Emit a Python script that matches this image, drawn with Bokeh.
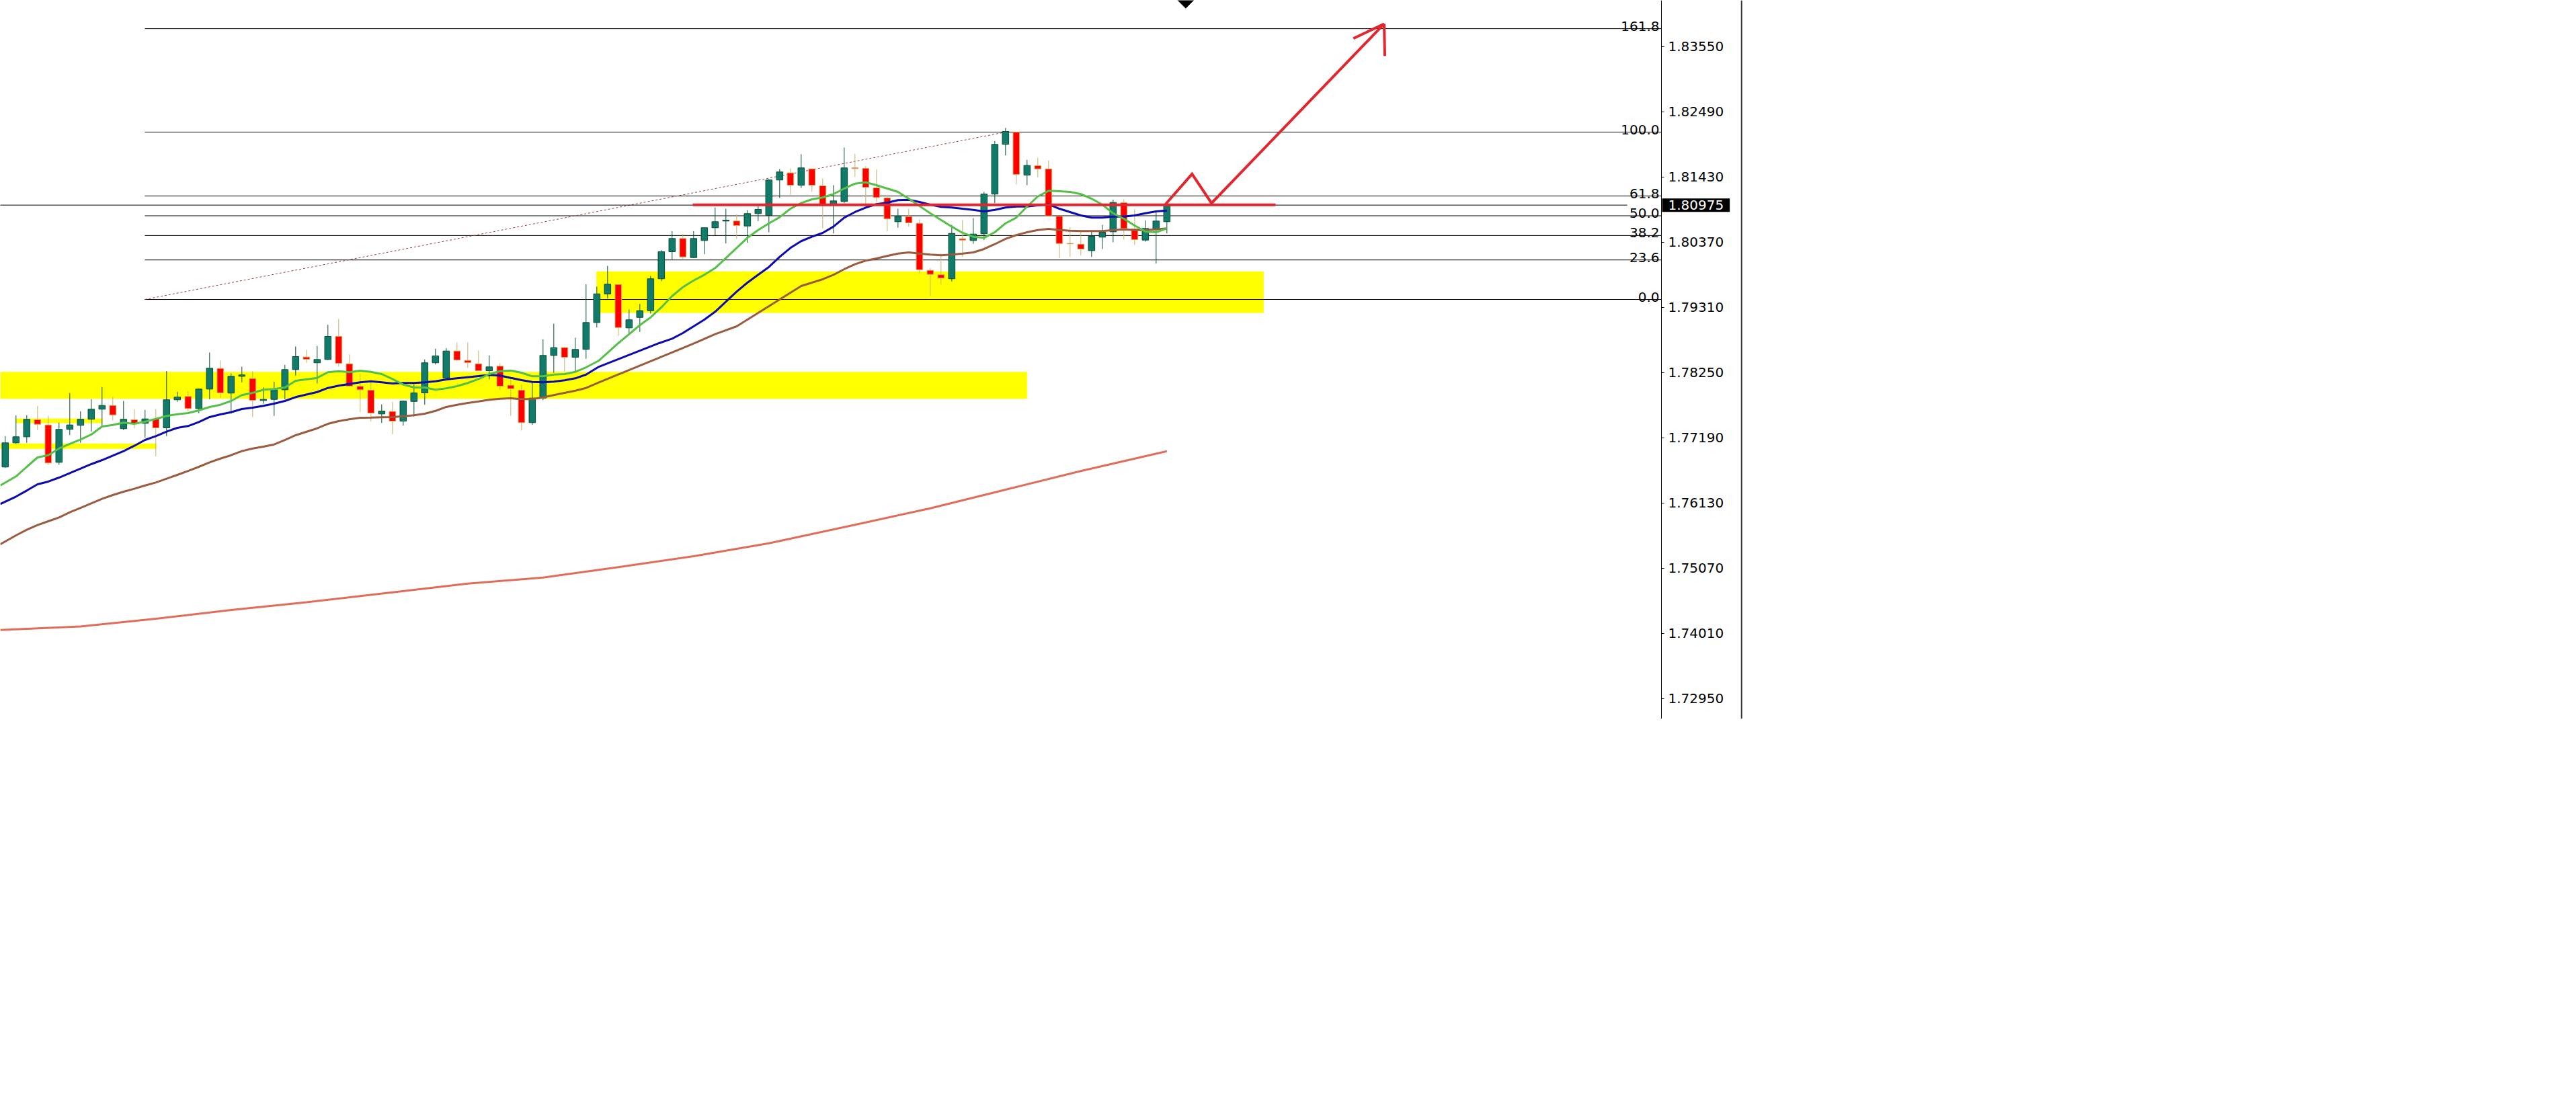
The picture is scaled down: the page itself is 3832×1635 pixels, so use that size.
from bokeh.plotting import figure
from bokeh.models import Range1d, FixedTicker, PrintfTickFormatter, Label, ColumnDataSource, Span
from bokeh.embed import file_html
from bokeh.resources import INLINE
from bokeh.core.properties import value

# ---------------- data (prices) ----------------
open_ = [
    1.76717, 1.77110, 1.77208, 1.77485, 1.77401, 1.76793, 1.77329, 1.77394, 1.77493, 1.77657,
    1.77718, 1.77340, 1.77485, 1.77427, 1.77499, 1.77354, 1.77810, 1.77864, 1.77667, 1.77984,
    1.78319, 1.77919, 1.78192, 1.78155, 1.77799, 1.77816, 1.77973, 1.78301, 1.78505, 1.78411,
    1.78465, 1.78840, 1.78395, 1.78028, 1.77966, 1.77580, 1.77620, 1.77463, 1.77783, 1.77922,
    1.78411, 1.78166, 1.78603, 1.78450, 1.78395, 1.78283, 1.78356, 1.78046, 1.77966, 1.77438,
    1.77838, 1.78531, 1.78658, 1.78501, 1.78629, 1.79066, 1.79532, 1.79685, 1.78979, 1.79149,
    1.79259, 1.79777, 1.80217, 1.80432, 1.80122, 1.80399, 1.80607, 1.80716, 1.80716, 1.80635,
    1.80837, 1.80807, 1.81383, 1.81499, 1.81299, 1.81564, 1.81288, 1.80971, 1.81033, 1.81580,
    1.81572, 1.81255, 1.81091, 1.80705, 1.80788, 1.80679, 1.79914, 1.79842, 1.79777, 1.80428,
    1.80399, 1.80509, 1.81154, 1.81962, 1.82162, 1.81463, 1.81616, 1.81564, 1.80796, 1.80351,
    1.80340, 1.80235, 1.80454, 1.80541, 1.81015, 1.80589, 1.80406, 1.80581, 1.80705]
high = [
    1.77219, 1.77558, 1.77558, 1.77711, 1.77551, 1.77438, 1.77919, 1.77624, 1.77820, 1.78017,
    1.77857, 1.77791, 1.77657, 1.77646, 1.77657, 1.78275, 1.77941, 1.77947, 1.77995, 1.78578,
    1.78447, 1.78239, 1.78348, 1.78275, 1.78010, 1.78105, 1.78378, 1.78676, 1.78621, 1.78687,
    1.79029, 1.79124, 1.78548, 1.78228, 1.78094, 1.77736, 1.77777, 1.77799, 1.78057, 1.78465,
    1.78640, 1.78651, 1.78742, 1.78742, 1.78610, 1.78531, 1.78403, 1.78166, 1.78057, 1.78083,
    1.78793, 1.79048, 1.78668, 1.78818, 1.79689, 1.79649, 1.79987, 1.79685, 1.79277, 1.79368,
    1.79824, 1.80242, 1.80552, 1.80509, 1.80552, 1.80607, 1.80935, 1.80916, 1.80826, 1.80891,
    1.80971, 1.81397, 1.81561, 1.81572, 1.81802, 1.81572, 1.81408, 1.81299, 1.81911, 1.81809,
    1.81608, 1.81553, 1.81135, 1.80916, 1.80916, 1.80742, 1.79951, 1.80187, 1.80654, 1.80734,
    1.80763, 1.81190, 1.82017, 1.82228, 1.82162, 1.81711, 1.81747, 1.81700, 1.80796, 1.80618,
    1.80559, 1.80570, 1.80654, 1.81062, 1.81069, 1.80909, 1.80727, 1.80887, 1.80990]
low = [
    1.76701, 1.77092, 1.77110, 1.77318, 1.76753, 1.76753, 1.77237, 1.77110, 1.77292, 1.77383,
    1.77474, 1.77318, 1.77346, 1.77193, 1.76892, 1.77219, 1.77777, 1.77630, 1.77591, 1.77820,
    1.77838, 1.77583, 1.78094, 1.77529, 1.77747, 1.77547, 1.77820, 1.78203, 1.78411, 1.78075,
    1.78457, 1.78348, 1.78020, 1.77608, 1.77455, 1.77434, 1.77248, 1.77390, 1.77536, 1.77729,
    1.78384, 1.78155, 1.78439, 1.78330, 1.78275, 1.78141, 1.77973, 1.77547, 1.77310, 1.77401,
    1.77802, 1.78250, 1.78264, 1.78275, 1.78476, 1.78985, 1.79460, 1.78848, 1.78876, 1.78913,
    1.79212, 1.79739, 1.80086, 1.80097, 1.80115, 1.80177, 1.80479, 1.80351, 1.80425, 1.80362,
    1.80716, 1.80534, 1.81091, 1.81143, 1.81252, 1.81190, 1.80596, 1.80515, 1.81007, 1.81433,
    1.80990, 1.81026, 1.80545, 1.80607, 1.80625, 1.79867, 1.79496, 1.79685, 1.79733, 1.80133,
    1.80345, 1.80406, 1.81007, 1.81783, 1.81310, 1.81299, 1.81427, 1.80799, 1.80115, 1.80133,
    1.80159, 1.80133, 1.80261, 1.80370, 1.80414, 1.80326, 1.80381, 1.80024, 1.80515]
close = [
    1.77110, 1.77208, 1.77493, 1.77412, 1.76782, 1.77329, 1.77401, 1.77493, 1.77657, 1.77718,
    1.77565, 1.77493, 1.77430, 1.77499, 1.77354, 1.77810, 1.77853, 1.77667, 1.77984, 1.78323,
    1.77922, 1.78192, 1.78214, 1.77802, 1.77816, 1.77973, 1.78301, 1.78512, 1.78468, 1.78465,
    1.78840, 1.78403, 1.78031, 1.77973, 1.77594, 1.77627, 1.77463, 1.77788, 1.77922, 1.78411,
    1.78523, 1.78603, 1.78457, 1.78414, 1.78283, 1.78345, 1.78031, 1.77991, 1.77438, 1.77838,
    1.78531, 1.78658, 1.78501, 1.78629, 1.79066, 1.79532, 1.79689, 1.78985, 1.79110, 1.79259,
    1.79777, 1.80217, 1.80432, 1.80133, 1.80432, 1.80607, 1.80705, 1.80731, 1.80643, 1.80837,
    1.80905, 1.81383, 1.81514, 1.81299, 1.81580, 1.81299, 1.80971, 1.81044, 1.81580, 1.81569,
    1.81263, 1.81099, 1.80752, 1.80796, 1.80687, 1.79925, 1.79849, 1.79788, 1.80515, 1.80406,
    1.80504, 1.81154, 1.81962, 1.82173, 1.81474, 1.81619, 1.81564, 1.80799, 1.80351, 1.80345,
    1.80261, 1.80468, 1.80534, 1.81018, 1.80596, 1.80414, 1.80596, 1.80716, 1.80975]

# moving averages: (bar index, price)
ma_fast_x = [-0.46, 1, 2, 3, 4, 5, 6, 7, 8, 9, 10, 11, 12, 13, 14, 15, 16, 17, 18, 19, 20, 21, 22, 23, 24, 25,
             26, 27, 29, 30, 31, 32, 33, 34, 35, 36, 37, 38, 39, 40, 41, 42, 43, 44, 45, 46, 47, 48, 49, 50,
             51, 52, 53, 54, 55.2, 57, 58, 59, 60, 61, 62, 63, 64, 65, 66, 67, 68, 69, 70, 71, 72, 73, 74,
             75, 76, 77, 78, 79, 80, 81, 82, 83, 84, 85, 86, 87, 88, 89, 90, 91, 92, 93, 94, 95, 96, 97, 98,
             99, 100, 101, 102, 103, 104, 105, 106, 107, 108]
ma_fast_y = [1.76417, 1.76564, 1.76720, 1.76873, 1.76909, 1.77018, 1.77092, 1.77165, 1.77245, 1.77376,
             1.77401, 1.77438, 1.77419, 1.77455, 1.77499, 1.77547, 1.77576, 1.77594, 1.77638, 1.77693,
             1.77729, 1.77791, 1.77886, 1.77922, 1.77973, 1.77984, 1.78010, 1.78119, 1.78166, 1.78258,
             1.78275, 1.78258, 1.78283, 1.78264, 1.78228, 1.78148, 1.78057, 1.78010, 1.78010, 1.77973,
             1.77995, 1.78031, 1.78083, 1.78148, 1.78228, 1.78275, 1.78286, 1.78250, 1.78192, 1.78192,
             1.78220, 1.78228, 1.78264, 1.78337, 1.78447, 1.78731, 1.78876, 1.79023, 1.79149, 1.79313,
             1.79496, 1.79641, 1.79750, 1.79842, 1.79951, 1.80115, 1.80279, 1.80443, 1.80570, 1.80679,
             1.80778, 1.80916, 1.81007, 1.81069, 1.81099, 1.81154, 1.81244, 1.81324, 1.81346, 1.81299,
             1.81244, 1.81190, 1.81080, 1.80960, 1.80843, 1.80734, 1.80625, 1.80523, 1.80461, 1.80443,
             1.80534, 1.80679, 1.80771, 1.80952, 1.81116, 1.81208, 1.81200, 1.81190, 1.81154, 1.81080,
             1.80982, 1.80843, 1.80752, 1.80643, 1.80545, 1.80534, 1.80596]

ma_mid_x = [-0.46, 1, 2, 3, 4, 5, 6, 7, 8, 9, 10, 11, 12, 13, 14, 15, 16, 17, 18, 19, 20, 21, 22, 23, 24, 25,
            26, 27, 29, 30, 31, 32, 33, 34, 35, 36, 37, 38, 39, 40, 41, 42, 43, 44, 45, 46, 47, 48, 49, 50,
            51, 52, 53, 54, 55.2, 60.8, 62, 63, 64, 65, 66, 67, 68, 69, 70, 71, 72, 73, 74, 75, 76, 77, 78,
            79, 80, 81, 82, 83, 84, 85, 86, 87, 88, 89, 90, 91, 92, 93, 94, 95, 96, 97, 98, 99, 100, 101,
            102, 103, 104, 105, 106, 107, 108]
ma_mid_y = [1.76116, 1.76236, 1.76334, 1.76436, 1.76480, 1.76545, 1.76618, 1.76691, 1.76764, 1.76829,
            1.76902, 1.76975, 1.77062, 1.77157, 1.77219, 1.77292, 1.77354, 1.77383, 1.77449, 1.77529,
            1.77572, 1.77608, 1.77660, 1.77682, 1.77711, 1.77747, 1.77791, 1.77853, 1.77936, 1.78002,
            1.78039, 1.78067, 1.78094, 1.78111, 1.78094, 1.78075, 1.78083, 1.78083, 1.78094, 1.78111,
            1.78141, 1.78159, 1.78177, 1.78195, 1.78214, 1.78203, 1.78166, 1.78130, 1.78100, 1.78094,
            1.78105, 1.78126, 1.78159, 1.78220, 1.78348, 1.78731, 1.78804, 1.78895, 1.79004, 1.79113,
            1.79241, 1.79405, 1.79569, 1.79714, 1.79842, 1.79969, 1.80133, 1.80279, 1.80389, 1.80461,
            1.80523, 1.80625, 1.80771, 1.80862, 1.80935, 1.80990, 1.81015, 1.81055, 1.81062, 1.81026,
            1.80982, 1.80946, 1.80935, 1.80916, 1.80898, 1.80873, 1.80898, 1.80935, 1.80952, 1.80952,
            1.80971, 1.80990, 1.80916, 1.80862, 1.80807, 1.80771, 1.80771, 1.80789, 1.80789, 1.80807,
            1.80843, 1.80873, 1.80887]

ma_slow_x = [-0.46, 1, 2, 3, 4, 5, 6, 7, 8, 9, 10, 11, 12, 13, 14, 15, 16, 17, 18, 19, 20, 21, 22, 23, 24, 25,
             26, 27, 29, 30, 31, 32, 33, 34, 35, 36, 37, 38, 39, 40, 41, 42, 43, 44, 45, 46, 47, 48, 49, 50,
             51, 52, 53, 54, 55.2, 64.1, 66, 68, 70, 72, 74, 76, 77, 78, 79, 80, 81, 82, 83, 84, 85, 86, 87,
             88, 89, 90, 91, 92, 93, 94, 95, 96, 97, 98, 99, 100, 101, 102, 103, 104, 105, 106, 107, 108]
ma_slow_y = [1.75460, 1.75605, 1.75696, 1.75773, 1.75835, 1.75897, 1.75980, 1.76053, 1.76127, 1.76199,
             1.76261, 1.76316, 1.76363, 1.76417, 1.76465, 1.76527, 1.76589, 1.76654, 1.76720, 1.76793,
             1.76854, 1.76909, 1.76975, 1.77018, 1.77048, 1.77084, 1.77157, 1.77234, 1.77346, 1.77419,
             1.77463, 1.77493, 1.77518, 1.77521, 1.77525, 1.77529, 1.77543, 1.77558, 1.77583, 1.77630,
             1.77693, 1.77729, 1.77758, 1.77783, 1.77810, 1.77827, 1.77835, 1.77820, 1.77820, 1.77849,
             1.77886, 1.77922, 1.77958, 1.78002, 1.78094, 1.78731, 1.78876, 1.79004, 1.79222, 1.79441,
             1.79660, 1.79769, 1.79842, 1.79933, 1.80013, 1.80072, 1.80108, 1.80148, 1.80187, 1.80206,
             1.80187, 1.80170, 1.80159, 1.80170, 1.80187, 1.80206, 1.80261, 1.80340, 1.80425, 1.80487,
             1.80534, 1.80570, 1.80589, 1.80570, 1.80559, 1.80552, 1.80552, 1.80552, 1.80570, 1.80581,
             1.80570, 1.80570, 1.80581, 1.80596]

ma_long_x = [-0.46, 7, 14, 21, 28, 36, 43, 50, 57, 64, 71, 79, 86, 93, 100, 108]
ma_long_y = [1.74068, 1.74125, 1.74250, 1.74392, 1.74518, 1.74680, 1.74821, 1.74919, 1.75088, 1.75267,
             1.75477, 1.75777, 1.76046, 1.76348, 1.76651, 1.76975]

# yellow zones (bar index left/right, price top/bottom)
zone_left = [-0.46, 54.96, -0.46, 0.98]
zone_right = [95.0, 117.0, 14.04, 9.04]
zone_top = [1.78264, 1.79897, 1.77099, 1.77504]
zone_bottom = [1.77827, 1.79222, 1.77012, 1.77430]

# fibonacci retracement
fib_start_x = 12.98
fib_end_x = 93.0
fib_low = 1.79441
fib_high = 1.82162
fib_pct = [0.0, 23.6, 38.2, 50.0, 61.8, 100.0, 161.8]

# bid price
bid = 1.80975

# hand-drawn red annotations
red_level = 1.8098
red_level_x = [63.92, 118.1]
zigzag_x = [107.88, 110.34, 112.15, 128.2]
zigzag_y = [1.80990, 1.81481, 1.81007, 1.83922]
barb_x = [125.34, 128.26]
barb_y = [1.83684, 1.83400]
marker_x = [109.75]
marker_y = [1.84304]

y_ticks = [1.72950, 1.74010, 1.75070, 1.76130, 1.77190, 1.78250, 1.79310, 1.80370, 1.81430, 1.82490, 1.83550]

# ---------------- figure ----------------
FONT = "DejaVu Sans"
X0, X1 = -0.45625, 161.54      # full canvas width
AXIS_X = 153.98                # price scale line
BORDER_X = 161.43              # right edge line

p = figure(width=2592, height=1069, output_backend="svg", toolbar_location=None,
           x_range=Range1d(X0, X1), y_range=Range1d(1.72622, 1.84304),
           x_axis_location=None, y_axis_location="right",
           min_border_left=0, min_border_right=0, min_border_top=0, min_border_bottom=0)
p.grid.visible = False
p.outline_line_color = None
p.background_fill_color = "white"
p.border_fill_color = "white"

ax = p.yaxis[0]
ax.fixed_location = AXIS_X
ax.ticker = FixedTicker(ticks=y_ticks, minor_ticks=[])
ax.formatter = PrintfTickFormatter(format="%.5f")
ax.major_label_text_font = FONT
ax.major_label_text_font_size = "20px"
ax.major_label_text_font_style = "normal"
ax.major_label_text_color = "black"
ax.axis_line_color = "black"
ax.axis_line_width = 1
ax.major_tick_out = 4
ax.major_tick_in = 0
ax.minor_tick_out = 0
ax.minor_tick_in = 0
ax.major_tick_line_color = "black"
ax.major_label_standoff = 6

# zones
p.quad(left=zone_left, right=zone_right, top=zone_top, bottom=zone_bottom,
       fill_color="#ffff00", line_color=None)

# fib lines
fib_levels = [fib_low + pc / 100.0 * (fib_high - fib_low) for pc in fib_pct]
p.segment(x0=[fib_start_x] * len(fib_levels), x1=[AXIS_X] * len(fib_levels),
          y0=fib_levels, y1=fib_levels, line_color="black", line_width=1)
p.line([fib_start_x, fib_end_x], [fib_low, fib_high], line_color="#9a3c3c",
       line_width=1, line_dash="3 3")
p.text(x=[153.79] * len(fib_levels), y=fib_levels, text=["%.1f" % pc for pc in fib_pct],
       text_align="right", text_baseline="alphabetic", y_offset=-4,
       text_font=value(FONT), text_font_size="20px", text_color="black")

# bid line
p.segment(x0=[X0 - 2], x1=[150.8], y0=[bid], y1=[bid], line_color="black", line_width=1)

# candles
idx = list(range(len(open_)))
up = [i for i in idx if close[i] >= open_[i]]
dn = [i for i in idx if close[i] < open_[i]]
src_up = ColumnDataSource(dict(x=up, hi=[high[i] for i in up], lo=[low[i] for i in up],
                               top=[close[i] for i in up], bot=[open_[i] for i in up]))
src_dn = ColumnDataSource(dict(x=dn, hi=[high[i] for i in dn], lo=[low[i] for i in dn],
                               top=[open_[i] for i in dn], bot=[close[i] for i in dn]))
p.segment(x0="x", x1="x", y0="lo", y1="hi", source=src_up, line_color="#0b4f2f", line_width=1)
p.segment(x0="x", x1="x", y0="lo", y1="hi", source=src_dn, line_color="#c5b36a", line_width=1)
p.vbar(x="x", width=0.6, top="top", bottom="bot", source=src_up,
       fill_color="#127a6b", line_color="#0b4f2f", line_width=1)
p.vbar(x="x", width=0.6, top="top", bottom="bot", source=src_dn,
       fill_color="#ff0000", line_color="#d9a45b", line_width=1)

# moving averages
p.line(ma_long_x, ma_long_y, line_color="#e26c5a", line_width=3)
p.line(ma_slow_x, ma_slow_y, line_color="#9a5b3e", line_width=3)
p.line(ma_mid_x, ma_mid_y, line_color="#0b0bb0", line_width=3)
p.line(ma_fast_x, ma_fast_y, line_color="#55c048", line_width=3)

# red drawings
RED = "#e3262e"
p.segment(x0=[red_level_x[0]], x1=[red_level_x[1]], y0=[red_level], y1=[red_level],
          line_color=RED, line_width=4)
p.line(zigzag_x, zigzag_y, line_color=RED, line_width=4, line_join="miter")
p.segment(x0=[zigzag_x[-1]] * 2, y0=[zigzag_y[-1]] * 2, x1=barb_x, y1=barb_y,
          line_color=RED, line_width=4)

# black marker at the top edge
p.scatter(marker_x, marker_y, marker="square", angle=0.7854, size=16.5,
          fill_color="black", line_color="black")

# right edge of the price scale
p.add_layout(Span(location=BORDER_X, dimension="height", line_color="#333333", line_width=2))

# bid price tag on the axis
p.add_layout(Label(x=154.04, y=bid, text="%.5f" % bid, text_font=FONT, text_font_size="20px",
                   text_color="white", background_fill_color="black", text_align="left",
                   text_baseline="middle", padding=(9, 3)))

open("out.html", "w").write(file_html(p, INLINE))
